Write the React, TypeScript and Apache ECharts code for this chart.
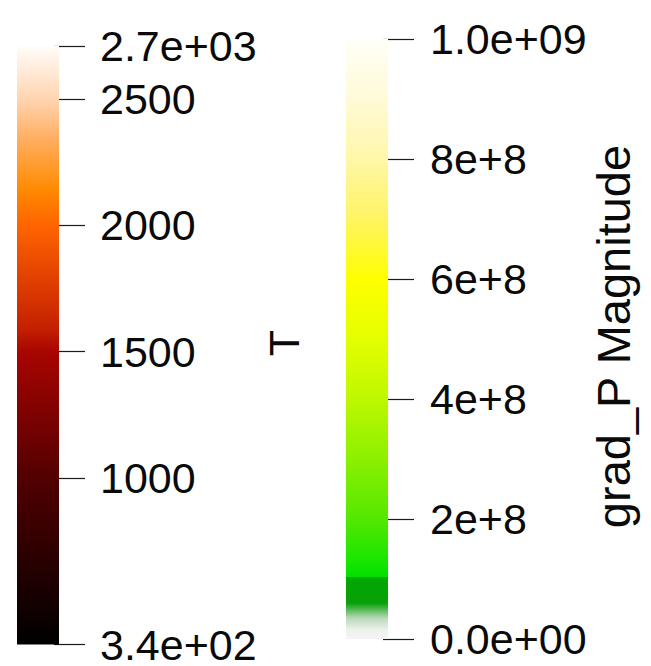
import React, { useEffect, useRef } from "react";
import * as echarts from "echarts";

// ---- T colour bar ----
const T_MIN = 340;
const T_MAX = 2710;
const tTickValues = [340, 1000, 1500, 2000, 2500, 2710];
const tTickLabels = ["3.4e+02", "1000", "1500", "2000", "2500", "2.7e+03"];
const tColorValues = [340, 1000, 1500, 1590, 2000, 2140, 2340, 2500, 2710];
const tColors = ["#000000", "#520000", "#a80500", "#c42000", "#ff6400", "#ff8a00", "#ffae60", "#ffd5b0", "#fffdfb"];
const tTitle = "T";

// ---- grad_P Magnitude colour bar ----
const P_MIN = 0;
const P_MAX = 1e9;
const pTickValues = [0, 2e8, 4e8, 6e8, 8e8, 1e9];
const pTickLabels = ["0.0e+00", "2e+8", "4e+8", "6e+8", "8e+8", "1.0e+09"];
const pColorValues = [0, 0.15e8, 0.35e8, 0.6e8, 1.03e8, 1.04e8, 1.3e8, 2e8, 3e8, 4e8, 5e8, 6e8, 7e8, 8e8, 9e8, 1e9];
const pColors = ["#f4f4f4", "#eef2ee", "#b8d8b8", "#08a008", "#00a800", "#00e000", "#18e600", "#54e800", "#8cf000", "#bef800", "#e4ff00", "#ffff00", "#fff462", "#fff7a8", "#fffad8", "#fffff6"];
const pTitle = "grad_P Magnitude";

const FONT = '"Liberation Sans", Arial, sans-serif';

function gradientFor(values: number[], colors: string[], min: number, max: number) {
  const stops = values
    .map((v, i) => ({ offset: (max - v) / (max - min), color: colors[i] }))
    .sort((a, b) => a.offset - b.offset);
  return new echarts.graphic.LinearGradient(0, 0, 0, 1, stops);
}

function barSeries(index: number, min: number, max: number, values: number[], colors: string[]) {
  return {
    type: "custom",
    xAxisIndex: index,
    yAxisIndex: index,
    data: [[0, max]],
    silent: true,
    renderItem: (params: any, api: any) => {
      const cs = params.coordSys;
      const top = api.coord([0, max])[1];
      const bottom = api.coord([0, min])[1];
      return {
        type: "rect",
        shape: { x: cs.x, y: top, width: cs.width, height: bottom - top },
        style: { fill: gradientFor(values, colors, min, max) },
      };
    },
  };
}

function axisFor(index: number, min: number, max: number, ticks: number[], labels: string[], margin: number) {
  return {
    gridIndex: index,
    type: "value",
    min,
    max,
    position: "right",
    offset: -5,
    axisLine: { show: false },
    splitLine: { show: false },
    axisTick: {
      show: true,
      inside: false,
      length: 31,
      customValues: ticks,
      lineStyle: { color: "#1a1a1a", width: 1.2 },
    },
    axisLabel: {
      show: true,
      customValues: ticks,
      margin,
      fontSize: 43,
      lineHeight: 30,
      fontFamily: FONT,
      color: "#0a0a0a",
      padding: [0, 0, 10, 0],
      formatter: (v: number) => {
        const i = ticks.findIndex((t) => Math.abs(t - v) < (max - min) * 1e-6);
        return i >= 0 ? labels[i] : "";
      },
    },
  };
}

export default function App() {
  const ref = useRef<HTMLDivElement>(null);
  useEffect(() => {
    if (!ref.current) return;
    const chart = echarts.init(ref.current, null, { renderer: "svg" });
    chart.setOption({
      animation: false,
      backgroundColor: "#ffffff",
      grid: [
        { left: 17, top: 46, width: 42, height: 599 },
        { left: 346, top: 39, width: 42, height: 600 },
      ],
      xAxis: [
        { gridIndex: 0, type: "category", data: [tTitle], show: false },
        { gridIndex: 1, type: "category", data: [pTitle], show: false },
      ],
      yAxis: [
        axisFor(0, T_MIN, T_MAX, tTickValues, tTickLabels, 46),
        axisFor(1, P_MIN, P_MAX, pTickValues, pTickLabels, 47),
      ],
      series: [
        barSeries(0, T_MIN, T_MAX, tColorValues, tColors),
        barSeries(1, P_MIN, P_MAX, pColorValues, pColors),
      ],
      graphic: [
        {
          type: "text",
          x: 283.5,
          y: 343,
          rotation: Math.PI / 2,
          style: {
            text: tTitle,
            font: `43px ${FONT}`,
            fill: "#0a0a0a",
            align: "center",
            verticalAlign: "middle",
          },
        },
        {
          type: "text",
          x: 613.5,
          y: 336.5,
          rotation: Math.PI / 2,
          style: {
            text: pTitle,
            font: `47px ${FONT}`,
            fill: "#0a0a0a",
            align: "center",
            verticalAlign: "middle",
          },
        },
      ],
    });
    return () => chart.dispose();
  }, []);
  return (
    <div
      ref={ref}
      style={{ position: "fixed", left: 0, top: 0, width: 651, height: 666 }}
    />
  );
}
